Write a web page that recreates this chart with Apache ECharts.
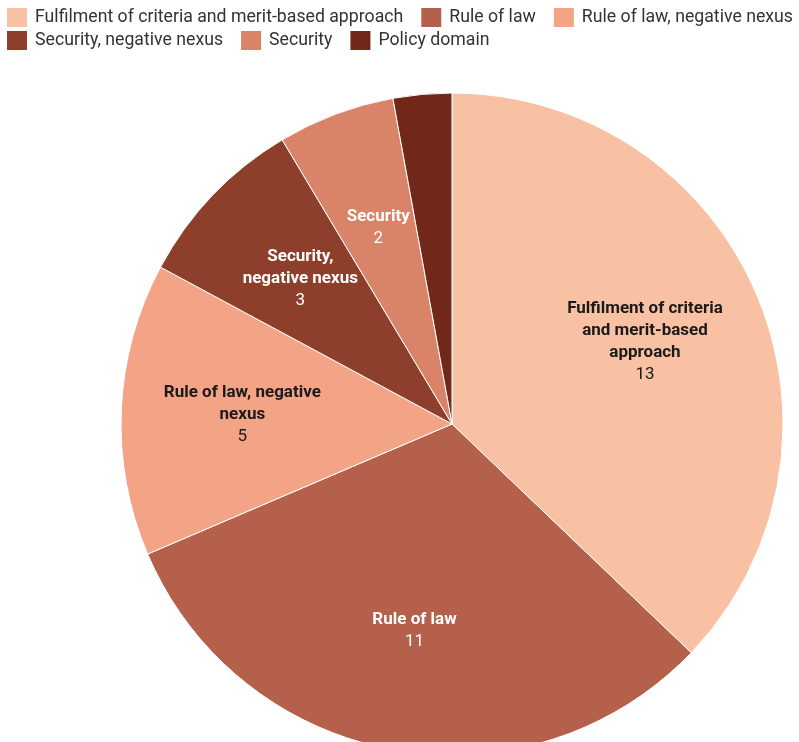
<!DOCTYPE html>
<html>
<head>
<meta charset="utf-8">
<script src="https://cdn.jsdelivr.net/npm/echarts@6/dist/echarts.min.js"></script>
<style>
  html, body { margin: 0; padding: 0; background: #fff; }
  #chart { width: 799px; height: 742px; }
</style>
</head>
<body>
<div id="chart"></div>
<script>
// slice names, values and colours
var categories = ['Fulfilment of criteria and merit-based approach', 'Rule of law', 'Rule of law, negative nexus',
    'Security, negative nexus', 'Security', 'Policy domain'];
var values = [13, 11, 5, 3, 2, 1];
var colors = ['#f9c1a3', '#b5604a', '#f3a386', '#8e3f2c', '#d98369', '#722819'];
// wrapped label text and label colour per slice
var labelNames = ['Fulfilment of criteria\nand merit-based\napproach', 'Rule of law', 'Rule of law, negative\nnexus',
    'Security,\nnegative nexus', 'Security', ''];
var labelColors = ['#1a1a1a', '#ffffff', '#1a1a1a', '#ffffff', '#ffffff', '#ffffff'];

var R = 331;
var CX = 452, CY = 424;
var chart = echarts.init(document.getElementById('chart'));

var pieData = categories.map(function (name, i) {
    return { name: name, value: values[i], itemStyle: { color: colors[i] } };
});
var labelData = categories.map(function (name, i) {
    return {
        name: name,
        value: values[i],
        label: { show: labelNames[i] !== '', color: labelColors[i] }
    };
});

var legendBase = {
    left: 5,
    width: 900,
    padding: 0,
    itemWidth: 22,
    itemHeight: 21,
    itemGap: 16,
    icon: 'rect',
    textStyle: { fontFamily: 'Roboto', fontSize: 17.7, color: '#333', padding: [0, 0, 0, 2] }
};

var option = {
    animation: false,
    legend: [
        Object.assign({}, legendBase, { top: 6, data: categories.slice(0, 3) }),
        Object.assign({}, legendBase, { top: 29, data: categories.slice(3) })
    ],
    series: [
        {
            type: 'pie',
            center: [CX, CY],
            radius: [0, R],
            startAngle: 90,
            clockwise: true,
            itemStyle: { borderColor: '#fff', borderWidth: 1 },
            label: { show: false },
            labelLine: { show: false },
            emphasis: { disabled: true },
            data: pieData
        },
        {
            // transparent overlay to place labels farther out than the ring midpoint
            type: 'pie',
            silent: true,
            center: [CX, CY],
            radius: [0, R * 1.25],
            startAngle: 90,
            clockwise: true,
            itemStyle: { color: 'transparent', borderWidth: 0 },
            label: {
                position: 'inside',
                fontFamily: 'Roboto',
                formatter: function (p) {
                    return '{b|' + labelNames[p.dataIndex] + '}\n{v|' + p.value + '}';
                },
                rich: {
                    b: { fontWeight: 'bold', fontSize: 17, lineHeight: 22, fontFamily: 'Roboto', align: 'center' },
                    v: { fontSize: 17, lineHeight: 22, fontFamily: 'Roboto', align: 'center' }
                }
            },
            labelLine: { show: false },
            emphasis: { disabled: true },
            data: labelData
        }
    ]
};
chart.setOption(option);
</script>
</body>
</html>
